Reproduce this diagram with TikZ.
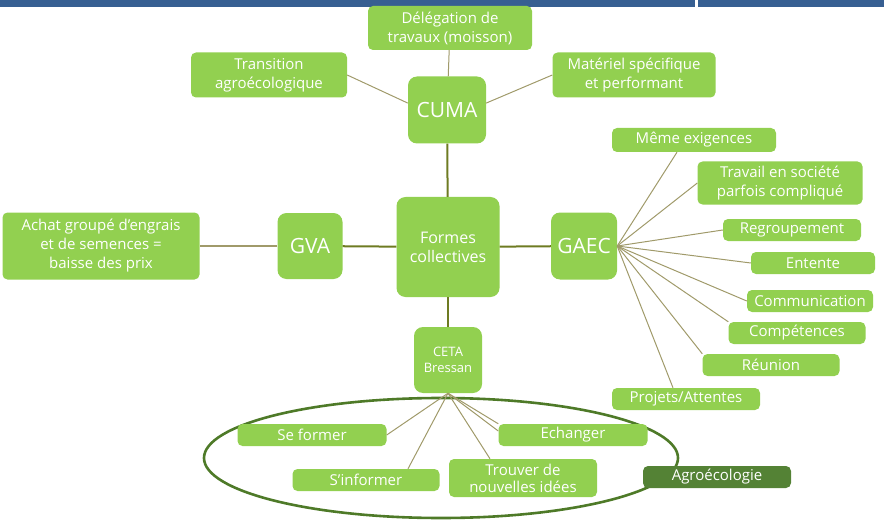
\documentclass[tikz,border=0pt]{standalone}
\usepackage{fontspec}
\setmainfont{Open Sans}
\definecolor{leafgreen}{HTML}{92D050}
\definecolor{agrogreen}{HTML}{548235}
\definecolor{trunkcol}{HTML}{6E7B22}
\definecolor{twigcol}{HTML}{A09A6A}
\definecolor{ringcol}{HTML}{4E7A28}
\definecolor{barblue}{HTML}{375F92}

\begin{document}
\begin{tikzpicture}[x=1pt, y=-1pt,
    leaf/.style = {fill=leafgreen, text=white, rounded corners=5pt, align=center,
      inner sep=0pt, font=\fontsize{15}{19}\selectfont},
    hub/.style = {leaf, rounded corners=9pt, font=\fontsize{21}{24}\selectfont},
    trunk/.style = {draw=trunkcol, line width=2pt},
    twig/.style = {draw=twigcol, line width=1pt}]
    \useasboundingbox (0,0) rectangle (884,524);
    \fill [barblue] (0,0) rectangle (884,7);
    \fill [white] (695,0) rectangle (698,7);

    % ellipse round the CETA aims
    \draw [ringcol, line width=2.6pt] (441,458) ellipse [x radius=237, y radius=60];

    % centre and the four forms
    \node [hub, minimum width=103, minimum height=100, font=\fontsize{16}{19}\selectfont]
      (formes) at (448,247) {Formes\\collectives};
    \node [hub, minimum width=78, minimum height=67] (cuma) at (447,110) {CUMA};
    \node [hub, minimum width=65, minimum height=66] (gva) at (310,246) {GVA};
    \node [hub, minimum width=66, minimum height=67] (gaec) at (584,246) {GAEC};
    \node [hub, minimum width=68, minimum height=66, font=\fontsize{13}{16}\selectfont]
      (ceta) at (448,360) {CETA\\Bressan};

    % CUMA
    \node [leaf, minimum width=164, minimum height=44] (deleg) at (450,28) {Délégation de\\travaux (moisson)};
    \node [leaf, minimum width=156, minimum height=45] (trans) at (269,75) {Transition\\agroécologique};
    \node [leaf, minimum width=163, minimum height=45] (mater) at (634,75) {Matériel spécifique\\et performant};

    % GVA
    \node [leaf, minimum width=197, minimum height=67] (achat) at (101,246)
      {Achat groupé d’engrais\\et de semences =\\baisse des prix};

    % GAEC
    \node [leaf, minimum width=164, minimum height=24] (meme) at (694,140) {Même exigences};
    \node [leaf, minimum width=165, minimum height=43] (travail) at (780,183) {Travail en société\\parfois compliqué};
    \node [leaf, minimum width=138, minimum height=22] (regroup) at (792,230) {Regroupement};
    \node [leaf, minimum width=124, minimum height=22] (entente) at (813,263) {Entente};
    \node [leaf, minimum width=126, minimum height=22] (commun) at (810,301) {Communication};
    \node [leaf, minimum width=137, minimum height=22] (compet) at (797,333) {Compétences};
    \node [leaf, minimum width=137, minimum height=22] (reunion) at (771,365) {Réunion};
    \node [leaf, minimum width=148, minimum height=22] (projets) at (686,399) {Projets/Attentes};

    % CETA
    \node [leaf, minimum width=149, minimum height=22] (seformer) at (312,435) {Se former};
    \node [leaf, minimum width=147, minimum height=22] (sinformer) at (366,480) {S’informer};
    \node [leaf, minimum width=148, minimum height=38, font=\fontsize{15}{17}\selectfont]
      (trouver) at (523,478) {Trouver de\\nouvelles idées};
    \node [leaf, minimum width=149, minimum height=22] (echanger) at (573,435) {Echanger};
    \node [leaf, fill=agrogreen, minimum width=148, minimum height=22] (agro) at (717,477) {Agroécologie};

    \draw [trunk] (formes) -- (cuma);
    \draw [trunk] (formes) -- (gva);
    \draw [trunk] (formes) -- (gaec);
    \draw [trunk] (formes) -- (ceta);
    \draw [twig, line width=1.4pt] (gva) -- (achat);

    \draw [twig] (cuma) -- (deleg);
    \draw [twig] (cuma.170) -- (trans.east);
    \draw [twig] (cuma.10) -- (mater.west);

    \draw [twig] (gaec.east) -- ([xshift=-17pt]meme.south);
    \draw [twig] (gaec.east) -- (travail.west);
    \draw [twig] (gaec.east) -- (regroup.west);
    \draw [twig] (gaec.east) -- (entente.west);
    \draw [twig] (gaec.east) -- (commun.west);
    \draw [twig] (gaec.east) -- (compet.north west);
    \draw [twig] (gaec.east) -- (reunion.north west);
    \draw [twig] (gaec.east) -- ([xshift=-13pt]projets.north);

    \draw [twig] (ceta.south) -- (seformer.east);
    \draw [twig] (ceta.south) -- ([xshift=42pt]sinformer.north);
    \draw [twig] (ceta.south) -- ([xshift=-33pt]trouver.north);
    \draw [twig] (ceta.south) -- (echanger.north west);
    \draw [twig] (ceta.south) -- ([yshift=4pt]echanger.west);
\end{tikzpicture}
\end{document}
